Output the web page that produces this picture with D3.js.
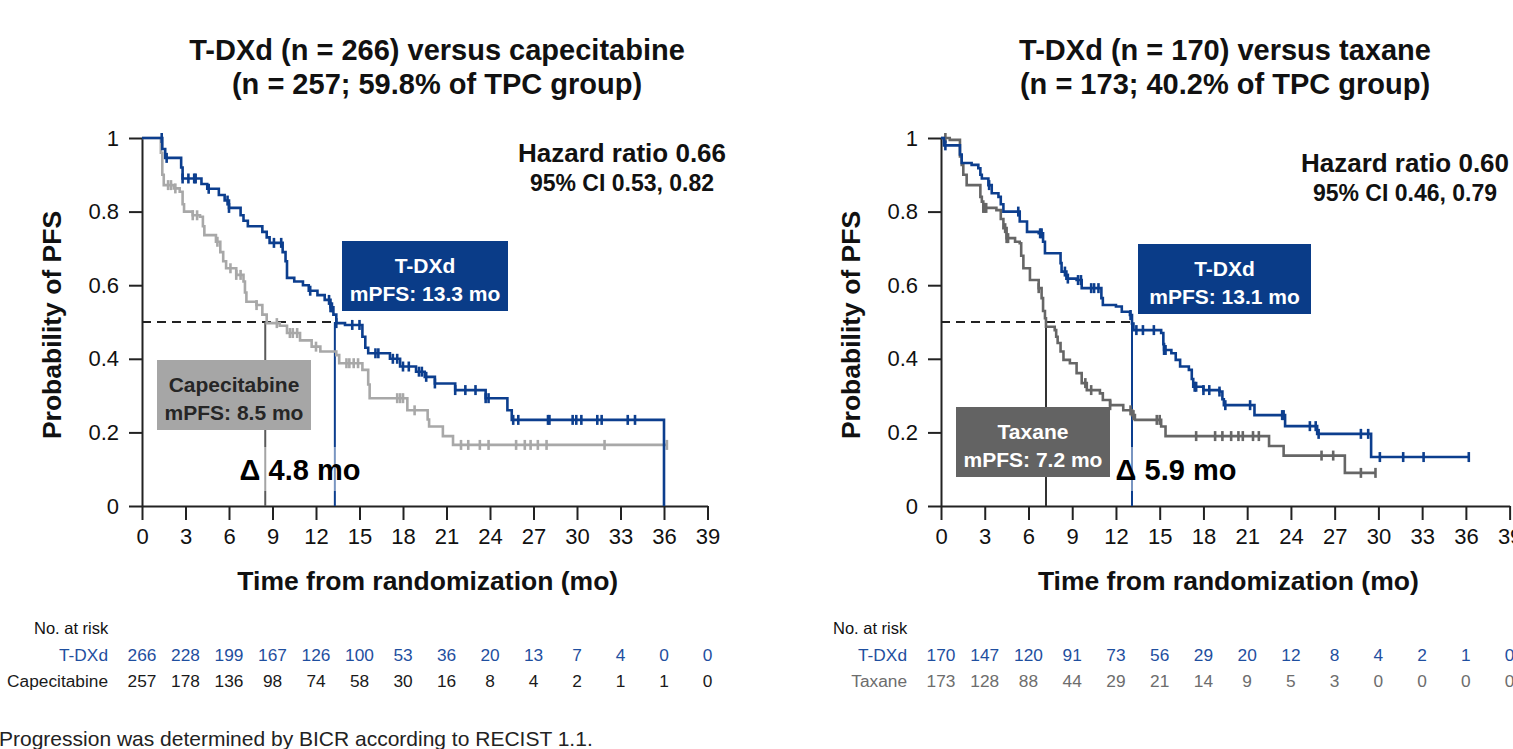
<!DOCTYPE html>
<html>
<head>
<meta charset="utf-8">
<script src="https://cdn.jsdelivr.net/npm/d3@7"></script>
<style>
body { margin: 0; background: #fff; overflow: hidden; }
svg { display: block; font-family: Arial, "Liberation Sans", sans-serif; }
</style>
</head>
<body>
<svg id="chart" width="1513" height="749"></svg>
<script>
// axis ticks
var xTicks = [0, 3, 6, 9, 12, 15, 18, 21, 24, 27, 30, 33, 36, 39];
var yTicks = [0, 0.2, 0.4, 0.6, 0.8, 1];
var yTickLabels = ["0", "0.2", "0.4", "0.6", "0.8", "1"];

// left panel: T-DXd vs capecitabine  [month, survival]
var tdxdCapeSteps = [[0,1],[1.4,0.97],[1.6,0.946],[2.7,0.92],[2.8,0.89],[4.1,0.875],[4.5,0.862],[5.3,0.845],
  [5.7,0.83],[6.0,0.81],[6.8,0.79],[7.0,0.775],[7.3,0.76],[8.3,0.745],[8.6,0.73],[8.8,0.715],[9.7,0.69],
  [9.9,0.665],[10.0,0.62],[10.5,0.61],[11.1,0.60],[11.5,0.585],[12.1,0.573],[12.6,0.56],[13.0,0.54],
  [13.2,0.52],[13.4,0.497],[14.0,0.492],[15.2,0.46],[15.4,0.43],[15.6,0.415],[17.1,0.40],[17.8,0.379],
  [18.9,0.365],[19.5,0.351],[20.2,0.333],[21.6,0.315],[23.7,0.293],[25.2,0.26],[25.5,0.234],[36.0,0]];
var tdxdCapeCensor = [1.36,1.7,2.8,3.2,3.6,3.7,4.6,5.9,6.0,9.1,9.6,11.6,12.9,13.0,13.1,13.4,14.5,15.0,16.1,16.3,
  17.3,17.6,18.0,18.4,19.1,19.3,19.6,20.2,21.6,22.3,23.0,23.7,23.9,25.6,25.95,28.0,28.1,29.7,29.95,30.3,
  31.4,31.7,33.5,34.0];
var capeSteps = [[0,1],[1.3,0.96],[1.4,0.90],[1.5,0.872],[2.2,0.863],[2.6,0.854],[2.8,0.82],[2.9,0.80],
  [3.5,0.79],[4.0,0.786],[4.2,0.76],[4.3,0.736],[5.1,0.718],[5.4,0.69],[5.6,0.665],[5.8,0.646],[6.5,0.628],
  [7.0,0.61],[7.1,0.58],[7.2,0.555],[7.9,0.546],[8.3,0.52],[8.6,0.497],[9.5,0.49],[10.0,0.47],[10.9,0.45],
  [11.7,0.433],[12.3,0.42],[13.4,0.41],[13.6,0.388],[15.2,0.37],[15.6,0.33],[15.7,0.293],[18.3,0.26],
  [19.7,0.235],[19.8,0.216],[20.75,0.19],[21.45,0.166],[36.2,0.166]];
var capeCensor = [1.8,2.0,2.3,3.5,3.8,5.2,6.1,6.5,6.8,7.9,9.3,10.2,10.4,10.7,12.0,14.1,14.3,14.6,14.9,17.6,
  17.8,18.0,18.8,22.0,22.5,23.3,23.9,25.8,26.4,26.8,27.3,27.9,31.9,36.2];

// right panel: T-DXd vs taxane
var tdxdTaxSteps = [[0,1],[0.2,0.98],[1.3,0.955],[1.42,0.932],[2.1,0.927],[2.56,0.918],[2.7,0.90],[2.8,0.89],
  [3.25,0.872],[3.48,0.85],[3.94,0.84],[4.1,0.82],[4.28,0.80],[5.4,0.773],[5.9,0.745],[6.7,0.741],[7.0,0.718],
  [7.13,0.687],[8.2,0.66],[8.27,0.637],[8.6,0.618],[9.3,0.614],[9.65,0.592],[11.0,0.565],[11.1,0.546],
  [12.0,0.542],[12.4,0.528],[12.96,0.519],[13.1,0.496],[13.2,0.478],[15.1,0.47],[15.25,0.44],[15.3,0.424],
  [15.8,0.415],[16.1,0.397],[16.4,0.379],[17.0,0.37],[17.2,0.345],[17.3,0.324],[18.0,0.315],[19.1,0.311],
  [19.3,0.29],[19.4,0.274],[21.5,0.247],[23.6,0.217],[25.8,0.196],[29.5,0.133],[36.2,0.133]];
var tdxdTaxCensor = [0.3,3.3,5.3,6.8,6.9,8.5,8.7,9.4,9.6,10.3,10.5,10.8,13.0,13.4,13.85,14.6,15.3,15.4,17.4,
  17.5,18.0,18.4,19.1,19.5,21.2,23.4,23.5,25.3,25.7,25.9,28.8,29.3,30.1,31.7,33.1,36.2];
var taxSteps = [[0,1],[0.6,0.995],[1.3,0.95],[1.42,0.927],[1.53,0.90],[1.76,0.872],[2.7,0.84],[2.8,0.827],
  [2.9,0.81],[3.8,0.804],[4.1,0.78],[4.28,0.755],[4.5,0.728],[5.08,0.718],[5.4,0.714],[5.5,0.68],
  [5.65,0.646],[6.1,0.614],[6.7,0.592],[6.9,0.565],[7.0,0.53],[7.13,0.51],[7.2,0.487],[7.8,0.478],
  [7.9,0.46],[8.0,0.443],[8.2,0.42],[8.4,0.397],[8.84,0.388],[9.3,0.361],[9.65,0.334],[10.0,0.315],
  [10.9,0.306],[11.1,0.288],[11.6,0.274],[12.5,0.26],[13.1,0.247],[13.3,0.234],[15.1,0.216],[15.4,0.19],
  [22.5,0.163],[23.5,0.137],[27.7,0.09],[29.8,0.09]];
var taxCensor = [0.3,2.9,3.0,3.1,4.4,4.5,4.6,6.7,9.9,10.3,11.6,13.0,13.2,14.8,15.0,17.5,18.8,19.3,19.9,20.4,
  20.7,21.4,21.8,26.1,26.9,28.8,29.8];

// number at risk
var atRiskTdxdCape = [266, 228, 199, 167, 126, 100, 53, 36, 20, 13, 7, 4, 0, 0];
var atRiskCape = [257, 178, 136, 98, 74, 58, 30, 16, 8, 4, 2, 1, 1, 0];
var atRiskTdxdTax = [170, 147, 120, 91, 73, 56, 29, 20, 12, 8, 4, 2, 1, 0];
var atRiskTax = [173, 128, 88, 44, 29, 21, 14, 9, 5, 3, 0, 0, 0, 0];

var blue = "#0c3e8e", lightGrey = "#a8a8a8", darkGrey = "#666666", ink = "#111";
var svg = d3.select("#chart");

function survAt(steps, t) {
  var s = 1;
  steps.forEach(function(d) { if (d[0] <= t) s = d[1]; });
  return s;
}

function drawPanel(p) {
  var x = d3.scaleLinear().domain([0, 39]).range([p.left, p.left + 39 * p.pxPerMonth]);
  var y = d3.scaleLinear().domain([0, 1]).range([506, 138]);
  var g = svg.append("g");

  g.selectAll("text.title").data(p.title).enter().append("text")
    .attr("x", p.titleX).attr("y", function(d, i) { return 60 + i * 34; })
    .attr("text-anchor", "middle").attr("font-size", 29).attr("font-weight", "bold").attr("fill", ink)
    .text(function(d) { return d; });

  // axes
  var ax = g.append("g").attr("transform", "translate(0,506)")
    .call(d3.axisBottom(x).tickValues(xTicks).tickSize(14).tickSizeOuter(0).tickPadding(8));
  var ay = g.append("g").attr("transform", "translate(" + p.left + ",0)")
    .call(d3.axisLeft(y).tickValues(yTicks).tickSize(13).tickSizeOuter(0).tickPadding(10)
      .tickFormat(function(d, i) { return yTickLabels[i]; }));
  [ax, ay].forEach(function(a) {
    a.selectAll("path, line").attr("stroke", "#222").attr("stroke-width", 2);
    a.selectAll("text").attr("font-size", 22).attr("fill", ink).attr("font-family", "Arial, 'Liberation Sans', sans-serif");
  });

  g.append("text").attr("x", p.left + 39 * p.pxPerMonth / 2 + 3).attr("y", 590)
    .attr("text-anchor", "middle").attr("font-size", 26.5).attr("font-weight", "bold").attr("fill", ink)
    .text("Time from randomization (mo)");
  g.append("text").attr("transform", "translate(" + (p.left - 81) + ",325) rotate(-90)")
    .attr("text-anchor", "middle").attr("font-size", 26.5).attr("font-weight", "bold").attr("fill", ink)
    .text("Probability of PFS");

  // median guides
  g.append("line").attr("x1", x(0)).attr("x2", x(p.medA)).attr("y1", y(0.5)).attr("y2", y(0.5))
    .attr("stroke", "#222").attr("stroke-width", 2).attr("stroke-dasharray", "9,6");
  g.append("line").attr("x1", x(p.medB)).attr("x2", x(p.medB)).attr("y1", y(0.5)).attr("y2", y(0))
    .attr("stroke", p.medBLine).attr("stroke-width", 2);
  g.append("line").attr("x1", x(p.medA)).attr("x2", x(p.medA)).attr("y1", y(0.5)).attr("y2", y(0))
    .attr("stroke", blue).attr("stroke-width", 2);

  var line = d3.line().x(function(d) { return x(d[0]); }).y(function(d) { return y(d[1]); })
    .curve(d3.curveStepAfter);
  [[p.stepsB, p.censorB, p.colB], [p.stepsA, p.censorA, blue]].forEach(function(s) {
    g.append("path").datum(s[0]).attr("d", line).attr("fill", "none")
      .attr("stroke", s[2]).attr("stroke-width", 2.6);
    g.selectAll(null).data(s[1]).enter().append("line")
      .attr("x1", function(d) { return x(d); }).attr("x2", function(d) { return x(d); })
      .attr("y1", function(d) { return y(survAt(s[0], d)) - 5; })
      .attr("y2", function(d) { return y(survAt(s[0], d)) + 5; })
      .attr("stroke", s[2]).attr("stroke-width", 2.6);
  });

  // labelled boxes
  p.boxes.forEach(function(b) {
    g.append("rect").attr("x", b.x).attr("y", b.y).attr("width", b.w).attr("height", b.h).attr("fill", b.fill);
    g.selectAll(null).data(b.lines).enter().append("text")
      .attr("x", b.x + b.w / 2).attr("y", function(d, i) { return b.y + 32 + i * 28; })
      .attr("text-anchor", "middle").attr("font-size", 21).attr("font-weight", "bold").attr("fill", b.ink)
      .text(function(d) { return d; });
  });

  var dt = g.append("text").attr("x", p.deltaX).attr("y", 480).attr("text-anchor", "middle")
    .attr("font-size", 29).attr("font-weight", "bold").attr("fill", "#000").text(p.delta);
  var bb = dt.node().getBBox();
  g.insert("rect", function() { return dt.node(); })
    .attr("x", bb.x).attr("y", 447).attr("width", bb.width).attr("height", 44)
    .attr("fill", "#fff").attr("opacity", 0.45);

  // hazard ratio
  g.append("text").attr("x", p.hrX).attr("y", p.hrY).attr("text-anchor", "middle")
    .attr("font-size", 26).attr("font-weight", "bold").attr("fill", ink).text(p.hr);
  g.append("text").attr("x", p.hrX).attr("y", p.hrY + 29).attr("text-anchor", "middle")
    .attr("font-size", 23).attr("font-weight", "bold").attr("fill", ink).text(p.ci);

  // number at risk table
  g.append("text").attr("x", p.left - 108).attr("y", 634).attr("font-size", 16.5).attr("fill", ink).text("No. at risk");
  [[p.labelA, p.riskA, "#1f4f9f", 661], [p.labelB, p.riskB, p.riskBColor, 687]].forEach(function(r) {
    g.append("text").attr("x", p.left - 34).attr("y", r[3]).attr("text-anchor", "end")
      .attr("font-size", 17.3).attr("fill", r[2]).text(r[0]);
    g.selectAll(null).data(r[1]).enter().append("text")
      .attr("x", function(d, i) { return x(xTicks[i]); }).attr("y", r[3])
      .attr("text-anchor", "middle").attr("font-size", 17.3).attr("fill", r[2])
      .text(function(d) { return d; });
  });
}

drawPanel({
  left: 142, pxPerMonth: 14.5, titleX: 437,
  title: ["T-DXd (n = 266) versus capecitabine", "(n = 257; 59.8% of TPC group)"],
  stepsA: tdxdCapeSteps, censorA: tdxdCapeCensor, stepsB: capeSteps, censorB: capeCensor,
  colB: lightGrey, medA: 13.3, medB: 8.5, medBLine: "#5a5a5a",
  boxes: [
    {x: 342, y: 241, w: 166, h: 70, fill: "#0a3c88", ink: "#fff", lines: ["T-DXd", "mPFS: 13.3 mo"]},
    {x: 157, y: 360, w: 154, h: 70, fill: "#a6a6a6", ink: "#262626", lines: ["Capecitabine", "mPFS: 8.5 mo"]}
  ],
  delta: "\u0394 4.8 mo", deltaX: 300,
  hr: "Hazard ratio 0.66", ci: "95% CI 0.53, 0.82", hrX: 622, hrY: 162,
  labelA: "T-DXd", labelB: "Capecitabine", riskA: atRiskTdxdCape, riskB: atRiskCape, riskBColor: "#1a1a1a"
});

drawPanel({
  left: 941, pxPerMonth: 14.58, titleX: 1225,
  title: ["T-DXd (n = 170) versus taxane", "(n = 173; 40.2% of TPC group)"],
  stepsA: tdxdTaxSteps, censorA: tdxdTaxCensor, stepsB: taxSteps, censorB: taxCensor,
  colB: darkGrey, medA: 13.1, medB: 7.2, medBLine: "#333333",
  boxes: [
    {x: 1138, y: 244, w: 173, h: 70, fill: "#0a3c88", ink: "#fff", lines: ["T-DXd", "mPFS: 13.1 mo"]},
    {x: 956, y: 407, w: 154, h: 70, fill: "#636363", ink: "#fff", lines: ["Taxane", "mPFS: 7.2 mo"]}
  ],
  delta: "\u0394 5.9 mo", deltaX: 1176,
  hr: "Hazard ratio 0.60", ci: "95% CI 0.46, 0.79", hrX: 1405, hrY: 172,
  labelA: "T-DXd", labelB: "Taxane", riskA: atRiskTdxdTax, riskB: atRiskTax, riskBColor: "#6d6d6d"
});

svg.append("text").attr("x", -1).attr("y", 746).attr("font-size", 21).attr("fill", "#222")
  .text("Progression was determined by BICR according to RECIST 1.1.");
</script>
</body>
</html>
